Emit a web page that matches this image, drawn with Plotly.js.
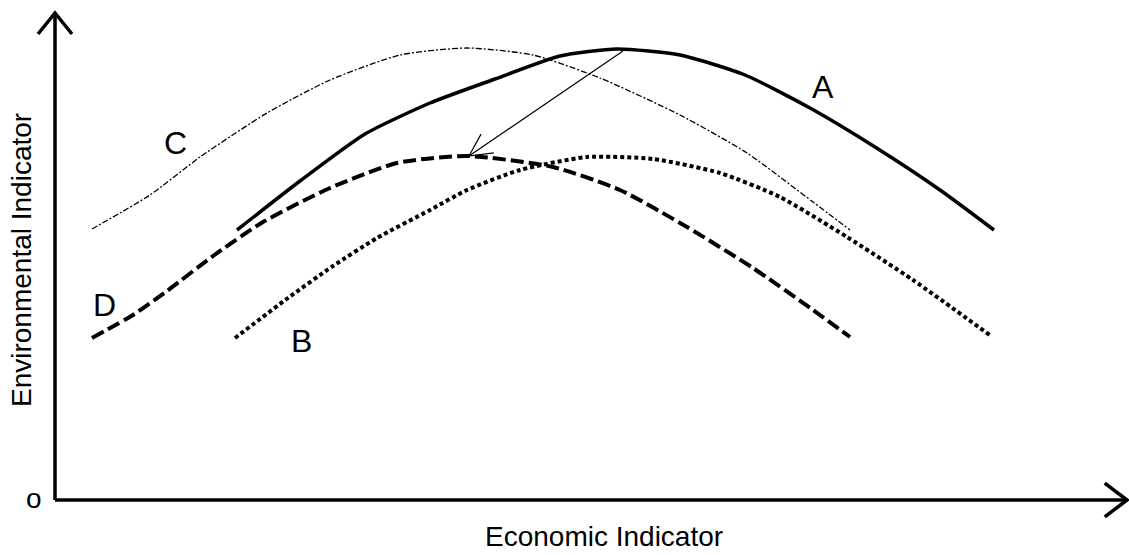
<!DOCTYPE html>
<html>
<head>
<meta charset="utf-8">
<script src="https://cdn.plot.ly/plotly-3.0.1.min.js"></script>
<style>
  html, body { margin: 0; padding: 0; background: #fff; }
  #chart { width: 1129px; height: 555px; }
</style>
</head>
<body>
<div id="chart"></div>
<script>
// 曲線資料
const curveAx = [182, 245, 310, 375, 440, 505, 562, 625, 690, 755, 820, 885, 939];
const curveAy = [270, 319, 366, 397, 421, 444, 451, 445, 425, 392, 353, 310, 270];

const curveBx = [180, 233, 278, 322, 375, 412, 465, 532, 598, 665, 725, 792, 858, 936];
const curveBy = [162, 202, 234, 262, 290, 310, 330, 343, 341, 327, 303, 263, 220, 164];

const curveCx = [37, 95, 145, 212, 275, 345, 412, 478, 545, 625, 692, 758, 795];
const curveCy = [271, 305, 343, 387, 420, 445, 452, 445, 422, 385, 347, 298, 270];

const curveDx = [37, 78, 112, 158, 208, 275, 342, 412, 498, 565, 632, 698, 758, 795];
const curveDy = [162, 185, 209, 244, 278, 312, 337, 344, 333, 310, 273, 232, 190, 163];

// 曲線標籤
const labelText = ['A', 'B', 'C', 'D'];
const labelX = [768, 246, 120, 49];
const labelY = [413, 159, 357, 195];

// 箭頭：A 頂點 → D 頂點
const arrowFrom = [568, 449];
const arrowTo = [414, 344];

// 座標軸
const axisEndX = 1072;
const axisEndY = 487;

const FONT = 'Arial, "Liberation Sans", sans-serif';

// 由尖端與方向算出 V 形箭頭兩臂
function chevron(tip, dx, dy, len, halfAngle) {
    const ang = Math.atan2(dy, dx);
    const pts = [ang + Math.PI - halfAngle, ang + Math.PI + halfAngle].map(a =>
        [tip[0] + len * Math.cos(a), tip[1] + len * Math.sin(a)]);
    return `M${pts[0][0]},${pts[0][1]} L${tip[0]},${tip[1]} L${pts[1][0]},${pts[1][1]}`;
}

function lineTrace(x, y, dash, width) {
    return {
        x: x, y: y,
        type: 'scatter',
        mode: 'lines',
        line: { color: '#000', width: width, dash: dash, shape: 'spline', smoothing: 0.6 },
        hoverinfo: 'skip'
    };
}

const traces = [
    lineTrace(curveCx, curveCy, '6px,2px,2px,2px', 1.3),
    lineTrace(curveBx, curveBy, '4px,3px', 4),
    lineTrace(curveDx, curveDy, '13px,5px', 4),
    lineTrace(curveAx, curveAy, 'solid', 3.5)
];

const shapes = [
    // 軸線
    { type: 'line', xref: 'x', yref: 'y', x0: 0, y0: 0, x1: axisEndX, y1: 0, line: { color: '#000', width: 3.5 } },
    { type: 'line', xref: 'x', yref: 'y', x0: 0, y0: 0, x1: 0, y1: axisEndY, line: { color: '#000', width: 3.5 } },
    { type: 'path', xref: 'x', yref: 'y', path: chevron([axisEndX, 0], 1, 0, 28, 0.65), line: { color: '#000', width: 3.5 } },
    { type: 'path', xref: 'x', yref: 'y', path: chevron([0, axisEndY], 0, 1, 27, 0.68), line: { color: '#000', width: 3.5 } },
    // 細箭頭
    { type: 'line', xref: 'x', yref: 'y', x0: arrowFrom[0], y0: arrowFrom[1], x1: arrowTo[0], y1: arrowTo[1], line: { color: '#000', width: 1.2 } },
    { type: 'path', xref: 'x', yref: 'y',
      path: chevron(arrowTo, arrowTo[0] - arrowFrom[0], arrowTo[1] - arrowFrom[1], 25, 0.47),
      line: { color: '#000', width: 1.2 } }
];

const annotations = labelText.map((t, i) => ({
    x: labelX[i], y: labelY[i], xref: 'x', yref: 'y',
    text: t, showarrow: false,
    font: { family: FONT, size: 32, color: '#000' }
}));

annotations.push(
    { x: 549, y: -36, xref: 'x', yref: 'y', text: 'Economic Indicator', showarrow: false,
      font: { family: FONT, size: 28, color: '#000' } },
    { x: -34, y: 240, xref: 'x', yref: 'y', text: 'Environmental Indicator', showarrow: false, textangle: -90,
      font: { family: FONT, size: 28, color: '#000' } },
    { x: -21, y: 2, xref: 'x', yref: 'y', text: 'o', showarrow: false,
      font: { family: FONT, size: 28, color: '#000' } }
);

const layout = {
    width: 1129,
    height: 555,
    margin: { l: 0, r: 0, t: 0, b: 0 },
    paper_bgcolor: '#fff',
    plot_bgcolor: '#fff',
    showlegend: false,
    xaxis: { range: [-55, 1074], visible: false, fixedrange: true },
    yaxis: { range: [-55, 500], visible: false, fixedrange: true },
    shapes: shapes,
    annotations: annotations
};

Plotly.newPlot('chart', traces, layout, { displayModeBar: false, staticPlot: true });
</script>
</body>
</html>
